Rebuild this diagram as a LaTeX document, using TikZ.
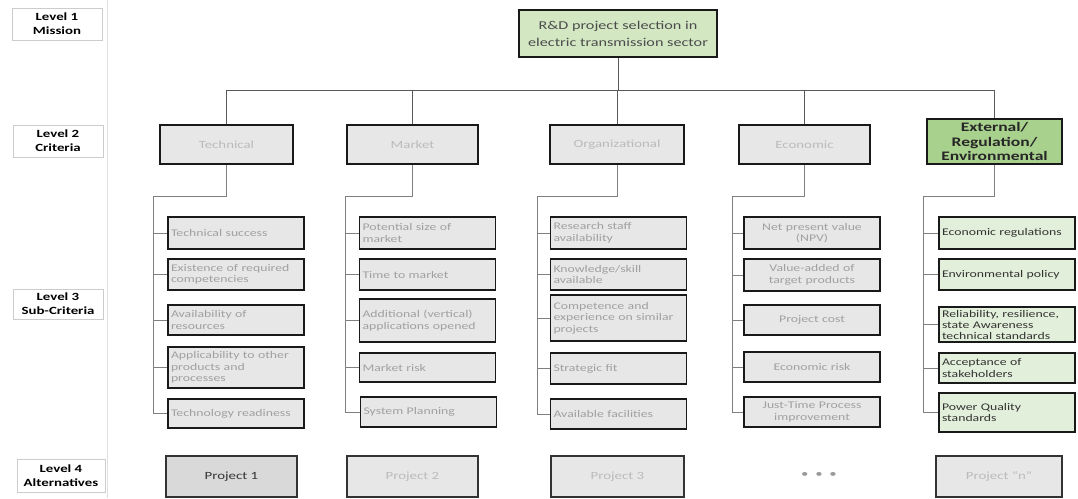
\documentclass[tikz,border=0pt]{standalone}
\usepackage{fontspec}
\setmainfont{Carlito}[FakeStretch=1.35]
\usetikzlibrary{positioning}

\definecolor{boxgray}{HTML}{E7E7E7}
\definecolor{altgray}{HTML}{D9D9D9}
\definecolor{subtext}{HTML}{A0A0A0}
\definecolor{crittext}{HTML}{BBBBBB}
\definecolor{goalgreen}{HTML}{D3E7C3}
\definecolor{extgreen}{HTML}{A9D18E}
\definecolor{subgreen}{HTML}{E2EFDA}

\begin{document}
\begin{tikzpicture}[x=1pt,y=-1pt,
  lvl/.style={draw=black!20,fill=white,align=center,font=\bfseries\fontsize{11}{14}\selectfont,minimum width=90pt,minimum height=32pt,inner sep=1pt},
  goalbox/.style={draw=black!90,line width=1.4pt,fill=goalgreen,align=center,text=black!70,font=\fontsize{12}{17}\selectfont,minimum width=198pt,minimum height=47pt},
  crit/.style={draw=black!90,line width=1.6pt,fill=boxgray,text=crittext,font=\fontsize{11}{13}\selectfont,minimum width=133pt,minimum height=39pt},
  sub/.style={draw=black!90,line width=1.6pt,fill=boxgray,text=subtext,font=\fontsize{10.2}{11.5}\selectfont,text width=130pt,align=left,inner xsep=3pt,inner ysep=1.5pt,minimum height=#1},
  sub/.default=31pt,
  subc/.style={sub=#1,align=center},
  subc/.default=31pt,
  subg/.style={sub=#1,fill=subgreen,text=black!80},
  subg/.default=31pt,
  alt/.style={draw=black!80,line width=1.4pt,fill=boxgray,text=crittext,font=\fontsize{11}{13}\selectfont,minimum width=131pt,minimum height=41pt},
  conn/.style={draw=black!50,line width=0.8pt}]
\useasboundingbox (0,0) rectangle (1078,498);

% level column
\draw[black!12,line width=1pt] (107,0) -- (107,498);
\node[lvl] (lv1) at (57,24) {Level 1\\Mission};
\node[lvl] (lv2) at (58,141) {Level 2\\Criteria};
\node[lvl,minimum height=30pt] (lv3) at (58,304) {Level 3\\Sub-Criteria};
\node[lvl,minimum width=88pt,minimum height=33pt] (lv4) at (61,475.5) {Level 4\\Alternatives};

% goal and criteria
\node[goalbox] (goal) at (618,33.5) {R\&D project selection in\\electric transmission sector};
\node[crit] (tec) at (226.5,144.5) {Technical};
\node[crit,minimum width=131pt] (mkt) at (412.5,144.5) {Market};
\node[crit,minimum width=134pt] (org) at (617,144.5) {Organizational};
\node[crit,minimum width=131pt] (eco) at (804.5,144.5) {Economic};
\node[crit,fill=extgreen,text=black!85,font=\bfseries\fontsize{13}{14.5}\selectfont,align=center,minimum width=135pt,minimum height=45pt,inner sep=0pt] (ext) at (994.5,141.5) {External/\\Regulation/\\Environmental};

\coordinate (bus) at (618,90);
\draw[conn,draw=black!65] (goal) -- (bus);
\draw[conn,draw=black!65] (bus) -| (tec);
\draw[conn,draw=black!65] (bus) -| (mkt);
\draw[conn,draw=black!65] (bus) -| (org);
\draw[conn,draw=black!65] (bus) -| (eco);
\draw[conn,draw=black!65] (bus) -| (ext);

% sub-criteria: technical
\node[sub=32pt] (t1) at (236,233) {Technical success};
\node[sub] (t2) at (236,274.5) {Existence of required\\competencies};
\node[sub=30pt] (t3) at (236,320) {Availability of\\resources};
\node[sub=41pt] (t4) at (236,367.5) {Applicability to other\\products and\\processes};
\node[sub=29pt] (t5) at (236,413.5) {Technology readiness};

% sub-criteria: market
\node[sub=32pt] (m1) at (427.5,233) {Potential size of\\market};
\node[sub] (m2) at (427.5,274.5) {Time to market};
\node[sub=43pt] (m3) at (427.5,320.5) {Additional (vertical)\\applications opened};
\node[sub=29pt] (m4) at (427.5,367.5) {Market risk};
\node[sub=30pt] (m5) at (428.5,412) {System Planning};

% sub-criteria: organizational
\node[sub=32pt] (o1) at (618.5,233) {Research staff\\availability};
\node[sub] (o2) at (618.5,274.5) {Knowledge/skill\\available};
\node[sub=46pt] (o3) at (618.5,318) {Competence and\\experience on similar\\projects};
\node[sub] (o4) at (618.5,368.5) {Strategic fit};
\node[sub=30pt] (o5) at (618.5,414) {Available facilities};

% sub-criteria: economic
\node[subc=32pt] (e1) at (812,233) {Net present value\\(NPV)};
\node[subc=32pt] (e2) at (812,275) {Value-added of\\target products};
\node[subc=30pt] (e3) at (812,320) {Project cost};
\node[subc=30pt] (e4) at (812,367) {Economic risk};
\node[subc=30pt] (e5) at (812,412) {Just-Time Process\\improvement};

% sub-criteria: external / regulation
\node[subg=32pt] (r1) at (1007,233) {Economic regulations};
\node[subg] (r2) at (1007,274.5) {Environmental policy};
\node[subg=35pt,font=\fontsize{10.2}{11}\selectfont] (r3) at (1007,324.5) {Reliability, resilience,\\state Awareness\\technical standards};
\node[subg=30pt] (r4) at (1007,368) {Acceptance of\\stakeholders};
\node[subg=39pt] (r5) at (1007,412.5) {Power Quality\\standards};

\coordinate (tj) at (153,196);
\coordinate (mj) at (345,196);
\coordinate (oj) at (537,196);
\coordinate (ej) at (732,196);
\coordinate (rj) at (923,196);
\draw[conn] (tec) |- (tj);
\draw[conn] (mkt) |- (mj);
\draw[conn] (org) |- (oj);
\draw[conn] (eco) |- (ej);
\draw[conn] (ext) |- (rj);
\draw[conn] (tj) |- (t1); \draw[conn] (tj) |- (t2); \draw[conn] (tj) |- (t3); \draw[conn] (tj) |- (t4); \draw[conn] (tj) |- (t5);
\draw[conn] (mj) |- (m1); \draw[conn] (mj) |- (m2); \draw[conn] (mj) |- (m3); \draw[conn] (mj) |- (m4); \draw[conn] (mj) |- (m5);
\draw[conn] (oj) |- (o1); \draw[conn] (oj) |- (o2); \draw[conn] (oj) |- (o3); \draw[conn] (oj) |- (o4); \draw[conn] (oj) |- (o5);
\draw[conn] (ej) |- (e1); \draw[conn] (ej) |- (e2); \draw[conn] (ej) |- (e3); \draw[conn] (ej) |- (e4); \draw[conn] (ej) |- (e5);
\draw[conn] (rj) |- (r1); \draw[conn] (rj) |- (r2); \draw[conn] (rj) |- (r3); \draw[conn] (rj) |- (r4); \draw[conn] (rj) |- (r5);

% alternatives
\node[alt,fill=altgray,text=black!80] (p1) at (231.5,476.5) {Project 1};
\node[alt] (p2) at (412.5,476.5) {Project 2};
\node[alt,minimum width=133pt] (p3) at (617.5,476.5) {Project 3};
\node[text=black!40,font=\fontsize{11}{13}\selectfont] (dots) at (819,475) {\textbullet\ \ \textbullet\ \ \textbullet};
\node[alt,minimum width=126pt] (pn) at (999,476.5) {Project “n”};
\end{tikzpicture}
\end{document}
